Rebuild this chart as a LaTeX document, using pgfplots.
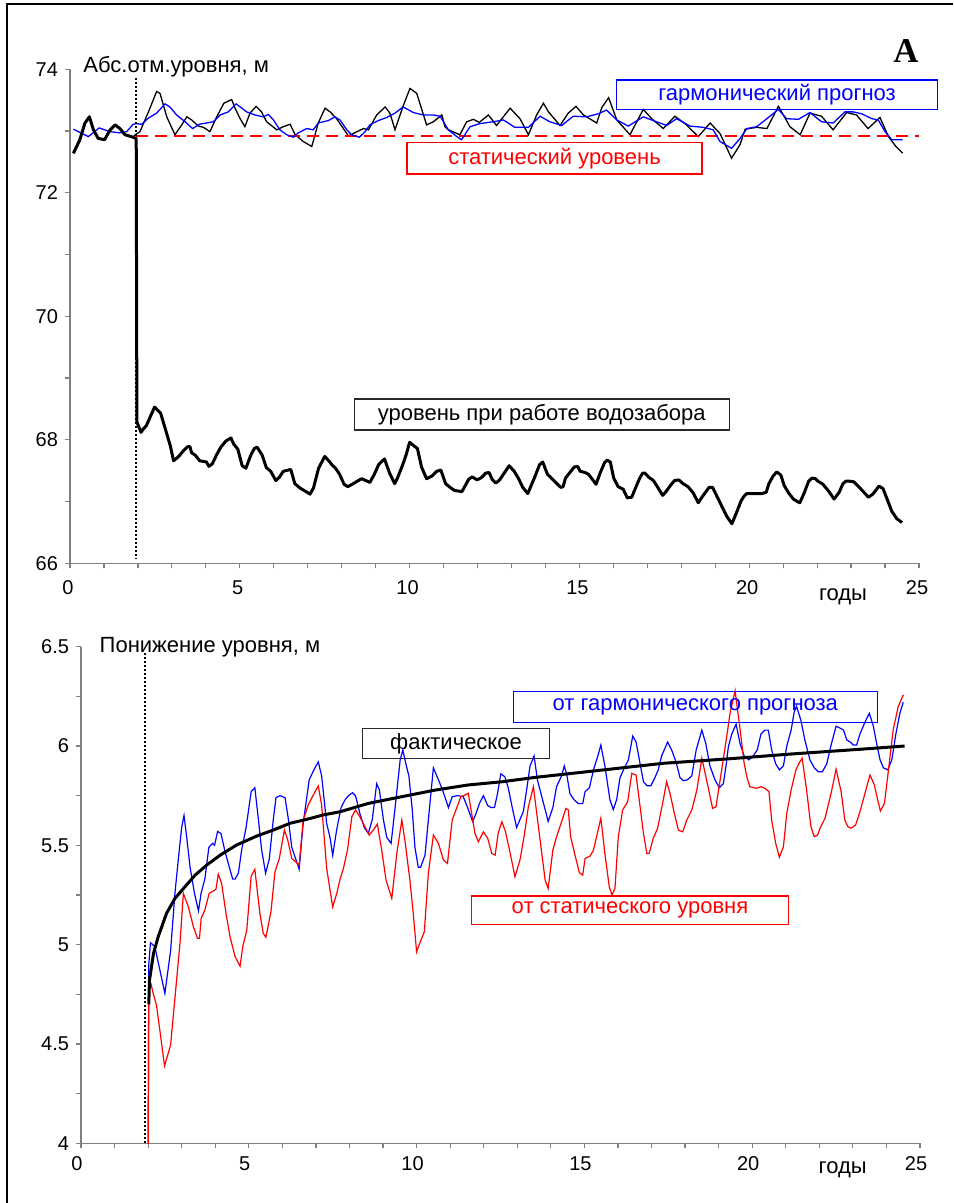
\documentclass[border=0pt]{standalone}
\usepackage{fontspec}
\setmainfont{Liberation Sans}
\newfontfamily\serifbold{Liberation Serif}
\usepackage{pgfplots}
\pgfplotsset{compat=1.18}
\definecolor{axgray}{RGB}{128,128,128}
\definecolor{myred}{RGB}{255,0,0}
\definecolor{myblue}{RGB}{0,0,255}
\definecolor{boxgray}{RGB}{40,40,40}
\pgfplotsset{
 myaxis/.style={
  scale only axis, axis lines*=left,
  axis line style={axgray, line width=0.6pt},
  tick style={axgray, line width=0.6pt}, tick align=outside,
  major tick length=2.5pt, minor tick length=2.5pt,
  tick label style={font=\fontsize{10}{12}\selectfont, text=black},
  /pgf/number format/assume math mode=true,
  xmin=0, xmax=25, xtick={0,5,...,25},
  minor xtick={1,2,3,4,6,7,8,9,11,12,13,14,16,17,18,19,21,22,23,24},
 }
}
\tikzset{lbl/.style={font=\fontsize{11}{13}\selectfont, inner sep=0pt},
 bx/.style={lbl, line width=0.65pt}}
\begin{document}
\begin{tikzpicture}
\useasboundingbox (0,0) rectangle (476.5pt,601.5pt);
% outer frame
\draw[line width=1pt, black] (3.65pt,0pt) -- (3.65pt,599.35pt) -- (476.5pt,599.35pt);
% ---------------- top panel
\begin{axis}[myaxis, at={(35pt,319.85pt)}, anchor=south west,
  width=424.5pt, height=247pt, ymin=66, ymax=74,
  ytick={66,68,70,72,74}, minor ytick={67,69,71,73},
  xticklabel style={xshift=-1pt, yshift=-2.5pt}]
\addplot[black, line width=0.65pt] coordinates {
(0.10,72.64) (0.29,72.86) (0.44,73.13) (0.57,73.23) (0.69,73.02) (0.83,72.88) (1.02,72.86) (1.18,73.02) (1.33,73.10) (1.47,73.04) (1.62,72.94) (1.86,72.90) (1.92,72.94) (2.06,72.99) (2.31,73.31) (2.55,73.64) (2.65,73.61) (2.85,73.23) (3.09,72.94) (3.29,73.10) (3.44,73.23) (3.58,73.18) (3.78,73.08) (3.93,73.06) (4.12,72.99) (4.32,73.23) (4.53,73.45) (4.76,73.51) (4.86,73.37) (5.01,73.20) (5.15,73.07) (5.30,73.29) (5.48,73.40) (5.64,73.31) (5.79,73.15) (6.09,73.02) (6.28,73.07) (6.48,73.11) (6.63,72.94) (6.87,72.83) (7.12,72.75) (7.31,73.13) (7.51,73.37) (7.66,73.31) (7.85,73.20) (8.20,72.92) (8.45,72.99) (8.64,73.04) (8.79,73.02) (9.03,73.26) (9.28,73.39) (9.42,73.29) (9.57,73.02) (9.80,73.39) (10.01,73.69) (10.21,73.61) (10.50,73.10) (10.70,73.15) (10.95,73.26) (11.04,73.07) (11.14,73.02) (11.48,72.94) (11.68,73.15) (11.88,73.19) (12.05,73.14) (12.32,73.26) (12.56,73.09) (12.96,73.37) (13.25,73.20) (13.50,72.94) (13.74,73.26) (13.94,73.45) (14.09,73.31) (14.43,73.09) (14.67,73.29) (14.90,73.40) (15.12,73.26) (15.51,73.13) (15.66,73.38) (15.86,73.54) (16.10,73.18) (16.49,72.94) (16.88,73.35) (17.13,73.20) (17.47,73.04) (17.81,73.24) (18.11,73.12) (18.50,72.91) (18.85,73.13) (19.14,72.96) (19.48,72.56) (19.73,72.78) (19.88,73.03) (20.22,73.06) (20.52,73.04) (20.86,73.40) (21.20,73.07) (21.50,72.94) (21.79,73.29) (22.13,73.24) (22.47,73.02) (22.87,73.30) (23.16,73.26) (23.50,73.04) (23.85,73.22) (24.10,72.91) (24.32,72.75) (24.52,72.64)};
\addplot[myred, line width=1pt, dash pattern=on 6pt off 3.5pt] coordinates {(1.95,72.92) (25,72.92)};
\addplot[myblue, line width=0.65pt] coordinates {
(0.10,73.03) (0.54,72.91) (0.86,73.05) (1.18,72.99) (1.47,72.97) (1.67,72.99) (1.86,73.11) (1.96,73.12) (2.11,73.11) (2.31,73.21) (2.55,73.29) (2.80,73.44) (2.94,73.39) (3.14,73.26) (3.39,73.15) (3.61,73.04) (3.81,73.11) (4.12,73.14) (4.22,73.15) (4.42,73.26) (4.66,73.31) (4.89,73.44) (5.06,73.37) (5.20,73.31) (5.45,73.26) (5.69,73.23) (5.84,73.27) (5.99,73.18) (6.18,73.02) (6.38,72.94) (6.58,72.90) (6.72,72.97) (6.97,73.04) (7.16,73.02) (7.31,73.13) (7.61,73.17) (7.80,73.23) (7.95,73.18) (8.15,73.02) (8.29,72.94) (8.52,72.90) (8.69,72.99) (8.83,73.10) (9.08,73.17) (9.33,73.22) (9.57,73.29) (9.81,73.39) (10.11,73.30) (10.40,73.26) (10.70,73.26) (10.90,73.24) (11.14,73.02) (11.39,72.91) (11.53,72.86) (11.78,73.07) (12.07,73.12) (12.46,73.15) (12.76,73.18) (13.10,73.06) (13.50,73.06) (13.84,73.24) (14.13,73.15) (14.48,73.09) (14.82,73.24) (15.21,73.23) (15.56,73.28) (15.80,73.34) (16.10,73.18) (16.44,73.08) (16.88,73.23) (17.27,73.15) (17.57,73.09) (17.86,73.20) (18.26,73.08) (18.65,73.06) (18.94,73.02) (19.14,72.83) (19.48,72.72) (19.73,72.88) (19.93,73.04) (20.22,73.07) (20.52,73.20) (20.86,73.35) (21.10,73.20) (21.45,73.19) (21.79,73.30) (22.13,73.15) (22.47,73.13) (22.82,73.31) (23.06,73.31) (23.31,73.28) (23.61,73.20) (23.80,73.18) (24.00,72.99) (24.20,72.86) (24.52,72.86)};
\addplot[black, line width=1.5pt, line join=round] coordinates {
(0.10,72.64) (0.29,72.86) (0.44,73.13) (0.57,73.23) (0.69,73.02) (0.83,72.88) (1.02,72.86) (1.18,73.02) (1.33,73.10) (1.47,73.04) (1.62,72.94) (1.86,72.90) (1.95,72.88) (1.97,68.29) (2.09,68.12) (2.15,68.17) (2.25,68.23) (2.49,68.53) (2.67,68.43) (2.95,67.91) (3.05,67.66) (3.20,67.73) (3.35,67.83) (3.47,67.89) (3.53,67.89) (3.58,67.79) (3.69,67.75) (3.82,67.66) (4.02,67.64) (4.09,67.57) (4.19,67.61) (4.32,67.76) (4.44,67.88) (4.59,67.98) (4.74,68.03) (4.82,67.93) (4.94,67.85) (5.07,67.58) (5.18,67.54) (5.33,67.76) (5.43,67.86) (5.51,67.88) (5.66,67.75) (5.78,67.55) (5.91,67.49) (6.06,67.34) (6.16,67.39) (6.28,67.49) (6.43,67.51) (6.50,67.52) (6.62,67.29) (6.77,67.22) (6.92,67.17) (7.07,67.12) (7.17,67.22) (7.32,67.54) (7.50,67.73) (7.62,67.66) (7.72,67.59) (7.82,67.54) (7.94,67.44) (8.07,67.28) (8.18,67.24) (8.31,67.28) (8.46,67.33) (8.59,67.37) (8.71,67.34) (8.83,67.31) (8.96,67.44) (9.09,67.60) (9.26,67.69) (9.41,67.46) (9.56,67.29) (9.65,67.39) (9.80,67.60) (9.90,67.76) (10.00,67.96) (10.13,67.90) (10.23,67.86) (10.35,67.56) (10.50,67.37) (10.65,67.41) (10.80,67.49) (10.92,67.51) (11.06,67.29) (11.19,67.23) (11.32,67.18) (11.44,67.17) (11.54,67.16) (11.64,67.26) (11.74,67.36) (11.84,67.40) (11.99,67.35) (12.12,67.39) (12.24,67.46) (12.34,67.47) (12.43,67.36) (12.54,67.30) (12.65,67.35) (12.81,67.48) (12.93,67.58) (13.08,67.49) (13.21,67.37) (13.33,67.23) (13.48,67.13) (13.58,67.26) (13.68,67.39) (13.83,67.60) (13.92,67.64) (14.06,67.44) (14.17,67.38) (14.32,67.30) (14.45,67.23) (14.52,67.24) (14.59,67.38) (14.72,67.47) (14.85,67.56) (14.95,67.57) (15.02,67.49) (15.17,67.47) (15.27,67.44) (15.49,67.28) (15.61,67.46) (15.74,67.63) (15.82,67.67) (15.91,67.64) (16.01,67.38) (16.14,67.24) (16.29,67.20) (16.41,67.06) (16.54,67.07) (16.66,67.23) (16.76,67.36) (16.86,67.46) (16.93,67.46) (17.05,67.39) (17.18,67.34) (17.33,67.21) (17.45,67.10) (17.55,67.16) (17.68,67.26) (17.80,67.34) (17.93,67.35) (18.05,67.29) (18.20,67.24) (18.35,67.14) (18.50,66.98) (18.62,67.08) (18.82,67.23) (18.92,67.23) (19.09,67.04) (19.24,66.87) (19.34,66.76) (19.49,66.64) (19.64,66.84) (19.76,67.01) (19.84,67.08) (19.93,67.13) (20.13,67.13) (20.26,67.13) (20.38,67.13) (20.50,67.15) (20.58,67.29) (20.70,67.41) (20.81,67.48) (20.93,67.43) (21.03,67.26) (21.16,67.14) (21.30,67.04) (21.42,67.00) (21.49,66.98) (21.62,67.14) (21.75,67.33) (21.85,67.38) (21.95,67.37) (22.02,67.33) (22.17,67.28) (22.35,67.16) (22.50,67.04) (22.65,67.15) (22.76,67.29) (22.85,67.33) (22.94,67.33) (23.08,67.32) (23.21,67.25) (23.36,67.16) (23.51,67.07) (23.64,67.12) (23.74,67.19) (23.82,67.25) (23.94,67.21) (24.06,67.04) (24.20,66.84) (24.35,66.72) (24.50,66.66)};
\addplot[black, line width=1pt, dash pattern=on 1pt off 1pt] coordinates {(1.93,73.86) (1.93,66.08)};
\end{axis}
% ---------------- bottom panel
\begin{axis}[myaxis, at={(40.5pt,29.85pt)}, anchor=south west,
  width=419.5pt, height=248.3pt, ymin=4, ymax=6.5,
  ytick={4,4.5,5,5.5,6,6.5}, minor ytick={4.25,4.75,5.25,5.75,6.25},
  xticklabel style={xshift=-2pt, yshift=-0.5pt}]
\addplot[black, line width=1pt, dash pattern=on 1pt off 1pt] coordinates {(1.91,6.47) (1.91,4.0)};
\addplot[myblue, line width=0.6pt] coordinates {
(2.00,3.90) (2.02,4.90) (2.07,5.01) (2.20,4.99) (2.50,4.755) (2.67,4.97) (2.80,5.26) (2.90,5.43) (3.00,5.59) (3.07,5.65) (3.15,5.54) (3.25,5.39) (3.38,5.26) (3.50,5.17) (3.58,5.26) (3.69,5.33) (3.81,5.49) (3.92,5.51) (3.98,5.50) (4.07,5.57) (4.17,5.56) (4.29,5.47) (4.42,5.39) (4.52,5.33) (4.59,5.33) (4.69,5.36) (4.79,5.48) (4.92,5.59) (5.07,5.77) (5.18,5.79) (5.28,5.64) (5.38,5.48) (5.50,5.36) (5.61,5.43) (5.73,5.63) (5.81,5.74) (5.93,5.75) (6.08,5.74) (6.18,5.63) (6.28,5.49) (6.38,5.44) (6.50,5.38) (6.62,5.61) (6.80,5.83) (6.94,5.88) (7.07,5.92) (7.17,5.85) (7.32,5.61) (7.42,5.54) (7.50,5.45) (7.62,5.58) (7.75,5.69) (7.87,5.73) (7.97,5.75) (8.09,5.765) (8.18,5.75) (8.31,5.66) (8.44,5.59) (8.56,5.56) (8.68,5.63) (8.81,5.81) (8.89,5.78) (9.01,5.63) (9.11,5.54) (9.24,5.51) (9.36,5.69) (9.51,5.93) (9.59,5.98) (9.68,5.91) (9.77,5.85) (9.87,5.68) (9.95,5.49) (10.05,5.39) (10.12,5.39) (10.25,5.45) (10.38,5.68) (10.50,5.89) (10.65,5.83) (10.77,5.78) (10.95,5.69) (11.06,5.745) (11.22,5.75) (11.39,5.745) (11.52,5.69) (11.67,5.62) (11.77,5.66) (11.87,5.71) (11.99,5.75) (12.12,5.70) (12.22,5.69) (12.32,5.69) (12.41,5.76) (12.51,5.86) (12.63,5.845) (12.73,5.79) (12.85,5.69) (12.98,5.59) (13.08,5.63) (13.18,5.67) (13.28,5.78) (13.38,5.90) (13.50,5.95) (13.60,5.83) (13.73,5.745) (13.83,5.68) (13.92,5.62) (14.06,5.69) (14.17,5.795) (14.32,5.85) (14.40,5.90) (14.47,5.86) (14.57,5.76) (14.69,5.73) (14.82,5.71) (14.95,5.71) (15.02,5.77) (15.15,5.79) (15.27,5.88) (15.40,5.95) (15.49,6.005) (15.61,5.90) (15.76,5.73) (15.86,5.68) (15.96,5.73) (16.06,5.84) (16.19,5.89) (16.31,5.93) (16.44,6.05) (16.54,6.02) (16.66,5.91) (16.76,5.82) (16.87,5.80) (16.98,5.80) (17.10,5.84) (17.20,5.88) (17.30,5.95) (17.48,6.02) (17.60,5.98) (17.73,5.92) (17.85,5.84) (17.95,5.825) (18.07,5.83) (18.20,5.85) (18.33,5.98) (18.50,6.08) (18.62,6.01) (18.74,5.90) (18.89,5.83) (19.02,5.79) (19.14,5.81) (19.22,5.90) (19.29,5.996) (19.39,6.06) (19.52,6.11) (19.64,6.01) (19.76,5.95) (19.90,5.93) (20.03,5.95) (20.15,5.98) (20.26,6.06) (20.38,6.08) (20.48,6.08) (20.58,5.98) (20.70,5.91) (20.81,5.88) (20.93,5.90) (21.03,6.00) (21.16,6.08) (21.25,6.17) (21.32,6.20) (21.45,6.13) (21.57,6.03) (21.72,5.93) (21.85,5.89) (21.97,5.87) (22.09,5.87) (22.22,5.91) (22.35,6.005) (22.50,6.10) (22.62,6.09) (22.72,6.08) (22.82,6.03) (22.92,6.02) (23.01,6.005) (23.11,6.005) (23.21,6.06) (23.36,6.12) (23.49,6.165) (23.61,6.10) (23.71,6.01) (23.81,5.93) (23.91,5.89) (24.04,5.88) (24.16,5.93) (24.28,6.06) (24.40,6.165) (24.50,6.22)};
\addplot[myred, line width=0.6pt] coordinates {
(2.00,3.90) (2.02,4.78) (2.09,4.80) (2.15,4.755) (2.25,4.695) (2.49,4.39) (2.67,4.495) (2.95,5.007) (3.05,5.258) (3.20,5.19) (3.35,5.09) (3.47,5.032) (3.53,5.032) (3.58,5.132) (3.69,5.174) (3.82,5.258) (4.02,5.278) (4.09,5.355) (4.19,5.309) (4.32,5.158) (4.44,5.04) (4.59,4.94) (4.74,4.892) (4.82,4.99) (4.94,5.073) (5.07,5.345) (5.18,5.379) (5.33,5.158) (5.43,5.057) (5.51,5.037) (5.66,5.166) (5.78,5.367) (5.91,5.434) (6.06,5.577) (6.16,5.527) (6.28,5.434) (6.43,5.412) (6.50,5.40) (6.62,5.627) (6.77,5.703) (6.92,5.753) (7.07,5.799) (7.17,5.703) (7.32,5.384) (7.50,5.19) (7.62,5.258) (7.72,5.33) (7.82,5.384) (7.94,5.476) (8.07,5.644) (8.18,5.678) (8.31,5.644) (8.46,5.594) (8.59,5.552) (8.71,5.577) (8.83,5.607) (8.96,5.476) (9.09,5.325) (9.26,5.233) (9.41,5.459) (9.56,5.627) (9.65,5.527) (9.80,5.325) (9.90,5.158) (10.00,4.964) (10.13,5.023) (10.23,5.065) (10.35,5.359) (10.50,5.552) (10.65,5.51) (10.80,5.426) (10.92,5.409) (11.06,5.627) (11.19,5.686) (11.32,5.745) (11.44,5.753) (11.54,5.762) (11.64,5.661) (11.74,5.56) (11.84,5.518) (11.99,5.568) (12.12,5.535) (12.24,5.459) (12.34,5.451) (12.43,5.56) (12.54,5.619) (12.65,5.568) (12.81,5.443) (12.93,5.342) (13.08,5.426) (13.21,5.552) (13.33,5.694) (13.48,5.795) (13.58,5.661) (13.68,5.527) (13.83,5.325) (13.92,5.283) (14.06,5.476) (14.17,5.543) (14.32,5.619) (14.45,5.686) (14.52,5.678) (14.59,5.543) (14.72,5.451) (14.85,5.362) (14.95,5.35) (15.02,5.434) (15.17,5.446) (15.27,5.476) (15.49,5.636) (15.61,5.459) (15.74,5.292) (15.82,5.25) (15.91,5.283) (16.01,5.543) (16.14,5.678) (16.29,5.72) (16.41,5.862) (16.54,5.854) (16.66,5.694) (16.76,5.56) (16.86,5.459) (16.93,5.459) (17.05,5.535) (17.18,5.585) (17.33,5.711) (17.45,5.82) (17.55,5.762) (17.68,5.661) (17.80,5.577) (17.93,5.568) (18.05,5.627) (18.20,5.678) (18.35,5.778) (18.50,5.938) (18.62,5.845) (18.82,5.686) (18.92,5.694) (19.09,5.879) (19.24,6.047) (19.34,6.165) (19.49,6.278) (19.64,6.081) (19.76,5.913) (19.84,5.845) (19.93,5.795) (20.13,5.787) (20.26,5.795) (20.38,5.787) (20.50,5.77) (20.58,5.627) (20.70,5.51) (20.81,5.44) (20.93,5.493) (21.03,5.661) (21.16,5.778) (21.30,5.879) (21.42,5.921) (21.49,5.938) (21.62,5.778) (21.75,5.594) (21.85,5.543) (21.95,5.552) (22.02,5.586) (22.17,5.636) (22.35,5.762) (22.50,5.883) (22.65,5.77) (22.76,5.627) (22.85,5.594) (22.94,5.586) (23.08,5.602) (23.21,5.669) (23.36,5.762) (23.51,5.854) (23.64,5.804) (23.74,5.728) (23.82,5.673) (23.94,5.711) (24.06,5.879) (24.20,6.081) (24.35,6.198) (24.50,6.257)};
\addplot[black, line width=1.5pt, line join=round] coordinates {
(2.02,4.70) (2.04,4.82) (2.16,4.956) (2.30,5.04) (2.55,5.158) (2.80,5.233) (3.10,5.292) (3.40,5.35) (3.75,5.401) (4.15,5.451) (4.64,5.502) (5.24,5.547) (5.73,5.577) (6.23,5.611) (6.73,5.631) (7.22,5.653) (7.72,5.669) (8.56,5.711) (9.56,5.745) (10.55,5.778) (11.54,5.804) (12.54,5.82) (13.53,5.842) (15.37,5.876) (17.35,5.913) (19.34,5.936) (21.18,5.96) (23.17,5.983) (24.54,6.00)};
\end{axis}
% ---------------- labels
\node[lbl, anchor=base west] at (41.5pt,565.15pt) {Абс.отм.уровня, м};
\node[lbl, anchor=base west] at (49.65pt,275.35pt) {Понижение уровня, м};
\node[lbl, anchor=base] at (421.5pt,301.25pt) {годы};
\node[lbl, anchor=base] at (421.35pt,14.5pt) {годы};
\node[inner sep=0pt, anchor=base, font=\serifbold\bfseries\fontsize{17.4}{20}\selectfont] at (453pt,570.15pt) {A};
\node[bx, draw=myblue, text=myblue, minimum width=160.3pt, minimum height=14.65pt] at (388.5pt,554.175pt) {гармонический прогноз};
\node[bx, draw=myred, text=myred, minimum width=147.5pt, minimum height=15.65pt] at (277.25pt,522.325pt) {статический уровень};
\node[bx, draw=boxgray, text=black, minimum width=187.5pt, minimum height=15.5pt] at (270.9pt,394.25pt) {уровень при работе водозабора};
\node[bx, draw=boxgray, text=black, minimum width=93.3pt, minimum height=14.8pt] at (228pt,229.75pt) {фактическое};
\node[bx, draw=myblue, text=myblue, minimum width=182pt, minimum height=15.7pt] at (347.65pt,248pt) {от гармонического прогноза};
\node[bx, draw=myred, text=myred, minimum width=158.3pt, minimum height=14.15pt] at (315pt,146.425pt) {от статического уровня};
\end{tikzpicture}
\end{document}
